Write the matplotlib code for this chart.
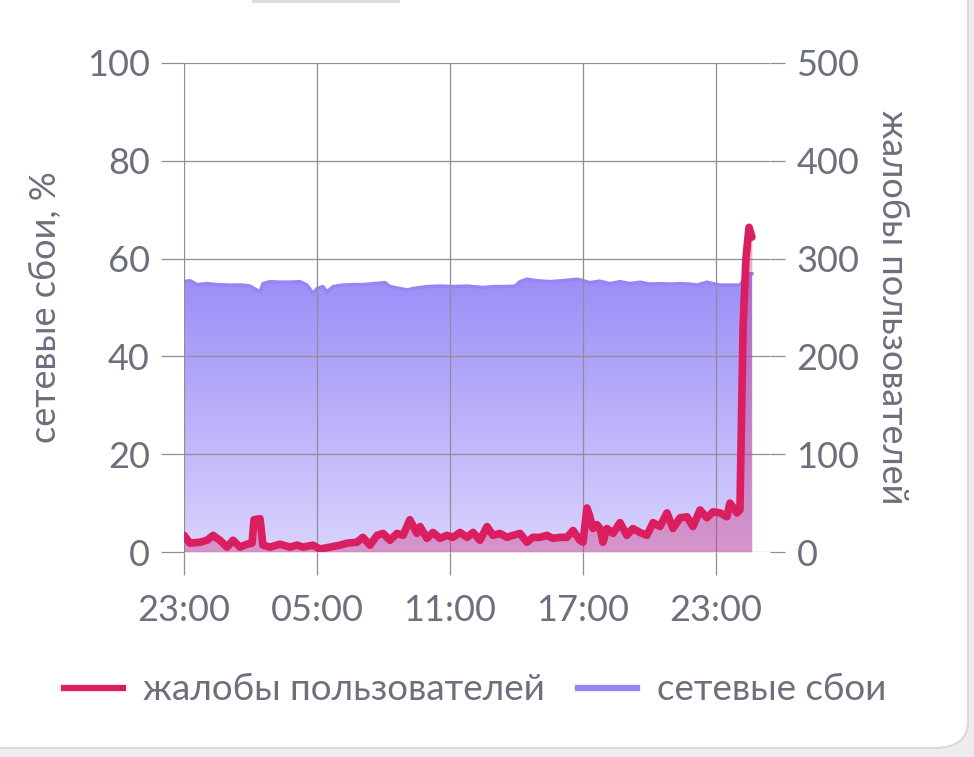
import numpy as np
import matplotlib
matplotlib.use("Agg")
import matplotlib.pyplot as plt
from matplotlib.patches import FancyBboxPatch, Rectangle
from matplotlib.lines import Line2D
from matplotlib.colors import LinearSegmentedColormap

plt.rcParams['font.family'] = ['Lato', 'DejaVu Sans']

# ---- data (hours after 23:00) ----
blue_hours = [0.0, 0.27, 0.59, 1.04, 1.49, 2.07, 2.66, 2.98, 3.43, 3.56, 3.88, 4.33, 4.78,
              5.23, 5.55, 5.82, 6.00, 6.27, 6.45, 6.72, 7.17, 7.62, 8.07, 8.53, 9.07, 9.29,
              9.74, 10.06, 10.33, 10.96, 11.55, 12.13, 12.77, 13.49, 13.94, 14.57, 14.93,
              15.16, 15.47, 15.92, 16.51, 17.10, 17.73, 18.00, 18.31, 18.76, 19.22, 19.67,
              20.12, 20.57, 21.02, 21.47, 21.92, 22.38, 22.83, 23.14, 23.59, 23.86, 24.18,
              24.63, 25.08, 25.22, 25.40, 25.62]
network_failures = [55.3, 55.5, 54.7, 54.9, 54.7, 54.6, 54.6, 54.4, 53.2, 54.9, 55.3, 55.2, 55.2,
                    55.3, 54.6, 52.9, 53.9, 54.3, 53.2, 54.3, 54.6, 54.7, 54.7, 54.9, 55.1, 54.3,
                    53.9, 53.6, 53.9, 54.3, 54.4, 54.3, 54.4, 54.1, 54.3, 54.3, 54.4,
                    55.3, 55.8, 55.5, 55.3, 55.5, 55.8, 55.5, 55.1, 55.4, 54.9, 55.3,
                    54.9, 55.2, 54.8, 54.9, 54.8, 54.9, 54.8, 54.6, 55.2, 54.9, 54.6,
                    54.6, 54.6, 55.6, 56.9, 56.9]

red_hours = [0.0, 0.27, 0.72, 1.04, 1.31, 1.62, 1.94, 2.21, 2.53, 2.84, 3.07, 3.16, 3.43, 3.56,
             3.88, 4.33, 4.78, 5.10, 5.37, 5.82, 6.13, 6.59, 7.04, 7.35, 7.80, 8.07, 8.39,
             8.71, 8.98, 9.29, 9.61, 9.88, 10.19, 10.51, 10.65, 10.96, 11.23, 11.55, 11.86,
             12.13, 12.45, 12.77, 13.04, 13.35, 13.67, 13.94, 14.25, 14.57, 14.84, 15.16,
             15.47, 15.74, 16.06, 16.37, 16.64, 16.96, 17.28, 17.55, 17.86, 18.00, 18.18,
             18.31, 18.45, 18.63, 18.77, 18.90, 19.08, 19.35, 19.67, 19.98, 20.25, 20.57,
             20.88, 21.16, 21.47, 21.79, 22.06, 22.38, 22.69, 22.96, 23.28, 23.59, 23.86,
             24.18, 24.49, 24.63, 24.95, 25.08, 25.22, 25.35, 25.49, 25.62]
user_complaints = [17, 9, 10, 12, 17, 12, 5, 12, 5, 8, 9, 33, 34, 7,
                   5, 8, 5, 7, 5, 7, 3, 5, 7, 9, 10, 15, 7,
                   17, 19, 12, 19, 17, 33, 19, 26, 14, 20, 14, 17,
                   15, 20, 15, 20, 12, 26, 17, 19, 15, 17, 19,
                   10, 15, 15, 17, 14, 15, 15, 22, 12, 10, 45,
                   36, 24, 28, 24, 10, 24, 19, 30, 17, 24, 20,
                   17, 30, 26, 40, 24, 35, 36, 26, 43, 35, 41,
                   40, 36, 50, 40, 43, 230, 300, 332, 322]

x_ticks = [0, 6, 12, 18, 24]
x_tick_labels = ["23:00", "05:00", "11:00", "17:00", "23:00"]
left_ticks = [0, 20, 40, 60, 80, 100]
right_ticks = [0, 100, 200, 300, 400, 500]

label_red = "жалобы пользователей"
label_blue = "сетевые сбои"
ylabel_left = "сетевые сбои, %"
ylabel_right = "жалобы пользователей"

# ---- style ----
RED = '#da1e5f'
BLUE_LINE = '#9486f4'
GRID = '#8e8e98'
TEXT = '#6c6f7c'
FS = 26

W, H = 974, 757
fig = plt.figure(figsize=(W / 100, H / 100), dpi=100)
fig.patch.set_facecolor('#ededf0')

# card
card = FancyBboxPatch((-60 / W, 1 - 748 / H), (968 + 60) / W, (748 + 60) / H,
                      boxstyle="round,pad=0,rounding_size=0.035",
                      transform=fig.transFigure, facecolor='white',
                      edgecolor='#d9d9de', linewidth=1.5, zorder=-10)
fig.patches.append(card)
fig.patches.append(Rectangle((252 / W, 1 - 3 / H), 148 / W, 3 / H, transform=fig.transFigure,
                             facecolor='#dedee2', edgecolor='none', zorder=-9))

x0, x1 = 184, 770
y0, y1 = 63, 552
ax = fig.add_axes([x0 / W, 1 - y1 / H, (x1 - x0) / W, (y1 - y0) / H])
ax.patch.set_alpha(0)
px_per_hour = 133 / 6.0
xmax = (x1 - x0) / px_per_hour

# blue gradient area
bx = np.array(blue_hours)
by = np.array(network_failures)
poly = ax.fill_between(bx, 0, by, facecolor='none', edgecolor='none')
grad = np.linspace(0, 1, 256).reshape(-1, 1)
cmap = LinearSegmentedColormap.from_list('g', ['#d9d3fc', '#9a8df8'])
im = ax.imshow(grad, extent=[bx[0], bx[-1], 0, max(by)], origin='lower', aspect='auto',
               cmap=cmap, zorder=1)
im.set_clip_path(poly.get_paths()[0], transform=ax.transData)
ax.plot(bx, by, color=BLUE_LINE, lw=2.4, zorder=2, solid_joinstyle='round')
ax.set_xlim(0, xmax)
ax.set_ylim(0, 100)

ax.set_xticks(x_ticks)
ax.set_xticklabels(x_tick_labels)
ax.set_yticks(left_ticks)
ax.grid(True, color=GRID, lw=0.9, zorder=3)
ax.set_axisbelow(False)
for s in ax.spines.values():
    s.set_visible(False)
ax.tick_params(axis='both', length=16.5, width=0.9, color=GRID, labelcolor=TEXT,
               labelsize=FS, pad=8)
ax.tick_params(axis='x', pad=14)
ax.set_ylabel(ylabel_left, fontsize=FS, color=TEXT, labelpad=18)

# right axis
ax2 = ax.twinx()
ax2.set_ylim(0, 500)
ax2.set_yticks(right_ticks)
for s in ax2.spines.values():
    s.set_visible(False)
ax2.tick_params(axis='y', length=11, width=0.9, color=GRID, labelcolor=TEXT,
                labelsize=FS, pad=8)
rx = np.array(red_hours)
ry = np.array(user_complaints)
ax2.fill_between(rx, 0, ry, color='#d0307a', alpha=0.38, lw=0, zorder=1)
ax2.plot(rx, ry, color=RED, lw=5.5, zorder=3, solid_joinstyle='round',
         solid_capstyle='round')
ax2.set_ylabel(ylabel_right, fontsize=FS, color=TEXT, rotation=270, labelpad=36)
ax2.set_xlim(0, xmax)

# legend
handles = [Line2D([0], [0], color=RED, lw=4.5), Line2D([0], [0], color='#9486f4', lw=4.5)]
leg = fig.legend(handles, [label_red, label_blue], loc='center',
                 bbox_to_anchor=(475 / W, 1 - 690 / H), ncol=2, frameon=False,
                 fontsize=26.5, handlelength=1.6, handletextpad=0.55, columnspacing=0.9)
for t in leg.get_texts():
    t.set_color(TEXT)

fig.savefig('out.png', dpi=100, facecolor=fig.get_facecolor())
